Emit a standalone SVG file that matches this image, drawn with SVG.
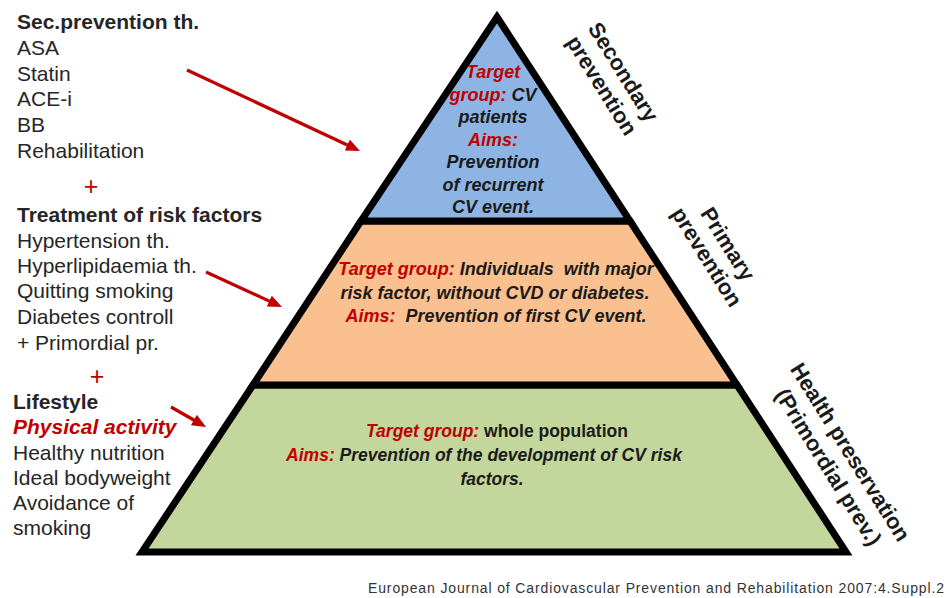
<svg xmlns="http://www.w3.org/2000/svg" width="946" height="598" viewBox="0 0 946 598">
<defs>
<style>
.lt{font-family:"Liberation Sans",Arial,sans-serif;font-size:21px;fill:#262626}
.b{font-weight:bold}
.red{fill:#C00000}
.bi{font-weight:bold;font-style:italic}
.pt{font-family:"Liberation Sans",Arial,sans-serif;font-size:18px;font-weight:bold;font-style:italic;fill:#1a1a1a;text-anchor:middle;white-space:pre}
.lab{font-family:"Liberation Sans",Arial,sans-serif;font-size:22px;font-weight:bold;fill:#1a1a1a;text-anchor:middle}
.lvl{stroke:#000;stroke-width:7;stroke-linejoin:miter;stroke-miterlimit:10}
.arr{stroke:#C00000;stroke-width:3.2;fill:none}
.plus{font-family:"Liberation Sans",Arial,sans-serif;font-size:25px;fill:#C00000;text-anchor:middle}
</style>
<marker id="ah" markerUnits="userSpaceOnUse" markerWidth="14" markerHeight="12" viewBox="0 0 14 12" refX="3" refY="6" orient="auto">
<path d="M0,0 L14,6 L0,12 z" fill="#C00000"/>
</marker>
</defs>
<rect width="946" height="598" fill="#fff"/>

<g id="level-primordial">
<polygon class="lvl" points="253,385 737,385 846,552 142,552" fill="#C3D69B"/>
<text class="pt" style="font-size:17.5px"><tspan x="497" y="437"><tspan class="red">Target group: </tspan><tspan style="font-style:normal">whole population</tspan></tspan><tspan x="484" y="461"><tspan class="red">Aims: </tspan>Prevention of the development of CV risk</tspan><tspan x="492" y="485">factors.</tspan></text>
</g>

<g id="level-primary">
<polygon class="lvl" points="361,221 630,221 737,385 253,385" fill="#FAC090"/>
<text class="pt"><tspan x="496" y="275"><tspan class="red">Target group: </tspan>Individuals  with major</tspan><tspan x="495" y="299">risk factor, without CVD or diabetes.</tspan><tspan x="496" y="322"><tspan class="red">Aims:  </tspan>Prevention of first CV event.</tspan></text>
</g>

<g id="level-secondary">
<polygon class="lvl" points="497,17 630,221 361,221" fill="#8EB4E3"/>
<text class="pt"><tspan x="493" y="78" class="red">Target</tspan><tspan x="493" y="100.5"><tspan class="red">group: </tspan>CV</tspan><tspan x="493" y="123">patients</tspan><tspan x="493" y="145.5" class="red">Aims:</tspan><tspan x="493" y="168">Prevention</tspan><tspan x="493" y="190.5">of recurrent</tspan><tspan x="493" y="213">CV event.</tspan></text>
</g>

<g id="label-secondary">
<text class="lab" transform="translate(617,76) rotate(58)">Secondary</text>
<text class="lab" transform="translate(595.5,89.5) rotate(58)">prevention</text>
</g>
<g id="label-primary">
<text class="lab" transform="translate(721.5,248) rotate(58)">Primary</text>
<text class="lab" transform="translate(700.5,261) rotate(58)">prevention</text>
</g>
<g id="label-health">
<text class="lab" transform="translate(844,456) rotate(58)">Health preservation</text>
<text class="lab" transform="translate(822,471) rotate(58)">(Primordial prev.)</text>
</g>

<g id="list-secondary">
<text class="lt"><tspan x="17" y="29" class="b">Sec.prevention th.</tspan><tspan x="17" y="55">ASA</tspan><tspan x="17" y="81">Statin</tspan><tspan x="17" y="106">ACE-i</tspan><tspan x="17" y="132">BB</tspan><tspan x="17" y="158">Rehabilitation</tspan></text>
</g>
<g id="plus-1"><text class="plus" x="91" y="195">+</text></g>
<g id="list-risk">
<text class="lt"><tspan x="17" y="222" class="b">Treatment of risk factors</tspan><tspan x="17" y="248">Hypertension th.</tspan><tspan x="17" y="273">Hyperlipidaemia th.</tspan><tspan x="17" y="298">Quitting smoking</tspan><tspan x="17" y="324">Diabetes controll</tspan><tspan x="17" y="350">+ Primordial pr.</tspan></text>
</g>
<g id="plus-2"><text class="plus" x="97" y="385">+</text></g>
<g id="list-lifestyle">
<text class="lt"><tspan x="13" y="409" class="b">Lifestyle</tspan><tspan x="13" y="434" class="bi red">Physical activity</tspan><tspan x="13" y="460">Healthy nutrition</tspan><tspan x="13" y="485">Ideal bodyweight</tspan><tspan x="13" y="510">Avoidance of</tspan><tspan x="13" y="535">smoking</tspan></text>
</g>

<g id="connectors">
<line class="arr" x1="187" y1="70" x2="350" y2="146.3" marker-end="url(#ah)"/>
<line class="arr" x1="206" y1="272" x2="272" y2="302.4" marker-end="url(#ah)"/>
<line class="arr" x1="171" y1="407" x2="196.5" y2="421.5" marker-end="url(#ah)"/>
</g>

<text x="368" y="593" font-family="Liberation Sans, Arial, sans-serif" font-size="14" fill="#333" textLength="576" lengthAdjust="spacing">European Journal of Cardiovascular Prevention and Rehabilitation 2007:4.Suppl.2</text>
</svg>
